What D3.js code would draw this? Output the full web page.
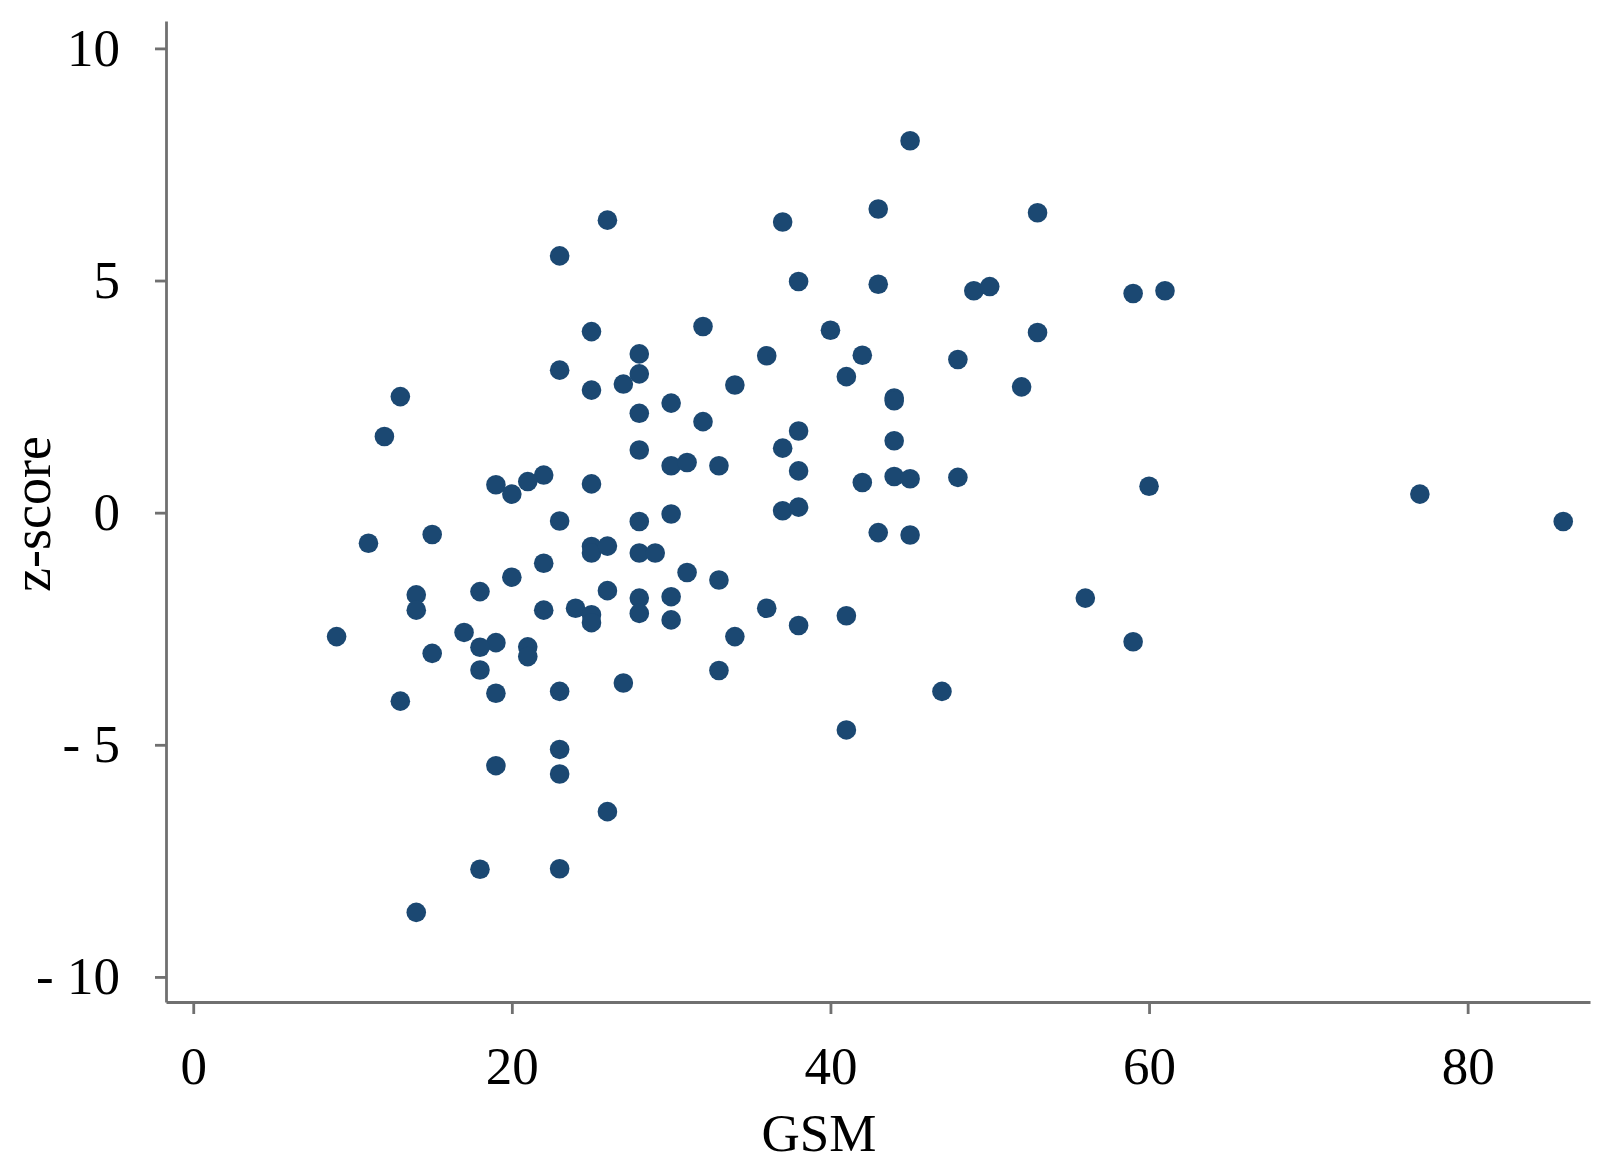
<!DOCTYPE html>
<html>
<head>
  <meta charset="utf-8">
  <script src="https://d3js.org/d3.v7.min.js"></script>
  <style>
    body {
      margin: 0;
      background: #fff;
      font-family: 'Liberation Serif', serif;
    }
    .axis path, .axis line {
      stroke: #707070;
      stroke-width: 2.8px;
    }
    .axis text {
      font-family: 'Liberation Serif', serif;
      font-size: 53px;
      fill: #000;
    }
  </style>
</head>
<body>
<script>
  // GSM (x) against z-score (y)
  var gsm = [45, 26, 37, 43, 53, 23, 38, 43, 49, 50, 59, 61,
             25, 32, 40, 53, 28, 36, 42, 48, 23, 28, 13, 25,
             27, 34, 41, 44, 44, 52, 30, 28, 32, 38, 12, 44,
             28, 37, 30, 31, 33, 38, 22, 21, 19, 20, 25, 42,
             44, 45, 48, 60, 77, 86, 37, 38, 30, 28, 23, 11,
             15, 43, 45, 25, 25, 26, 28, 29, 22, 20, 31, 33,
             18, 26, 14, 14, 28, 30, 56, 22, 24, 36, 41, 25,
             25, 28, 30, 38, 9, 17, 34, 59, 19, 18, 21, 21,
             15, 18, 33, 27, 47, 19, 23, 13, 41, 23, 19, 23,
             26, 18, 23, 14];
  var zscore = [8.01, 6.30, 6.26, 6.54, 6.46, 5.53, 4.98, 4.92, 4.78, 4.87, 4.72, 4.78,
                3.90, 4.01, 3.93, 3.88, 3.42, 3.38, 3.39, 3.30, 3.07, 2.99, 2.50, 2.64,
                2.77, 2.75, 2.93, 2.47, 2.41, 2.71, 2.36, 2.14, 1.96, 1.76, 1.64, 1.55,
                1.35, 1.39, 1.01, 1.08, 1.01, 0.90, 0.81, 0.67, 0.60, 0.40, 0.62, 0.65,
                0.78, 0.73, 0.76, 0.57, 0.40, -0.19, 0.04, 0.12, -0.03, -0.19, -0.18, -0.66,
                -0.47, -0.43, -0.48, -0.73, -0.87, -0.72, -0.87, -0.87, -1.09, -1.39, -1.29, -1.45,
                -1.70, -1.68, -1.77, -2.10, -1.84, -1.81, -1.84, -2.10, -2.06, -2.06, -2.22, -2.20,
                -2.37, -2.17, -2.31, -2.43, -2.67, -2.58, -2.67, -2.78, -2.80, -2.90, -2.89, -3.10,
                -3.03, -3.39, -3.40, -3.67, -3.85, -3.89, -3.85, -4.06, -4.68, -5.10, -5.45, -5.63,
                -6.44, -7.68, -7.67, -8.61];

  var xTicks = [0, 20, 40, 60, 80];
  var yTicks = [10, 5, 0, -5, -10];

  function draw() {
    var width = 1612, height = 1176;
    var plotLeft = 166, plotRight = 1590, plotTop = 21, plotBottom = 1002;

    var svg = d3.select("body")
      .append("svg")
        .attr("width", width)
        .attr("height", height);

    var x = d3.scaleLinear().domain([-1.71, 87.68]).range([plotLeft, plotRight]);
    var y = d3.scaleLinear().domain([-10.54, 10.59]).range([plotBottom, plotTop]);

    var xAxis = d3.axisBottom(x)
      .tickValues(xTicks)
      .tickSizeInner(12)
      .tickSizeOuter(0)
      .tickPadding(32)
      .tickFormat(d3.format("d"));

    var yAxis = d3.axisLeft(y)
      .tickValues(yTicks)
      .tickSizeInner(11)
      .tickSizeOuter(0)
      .tickPadding(35)
      .tickFormat(function (d) { return d < 0 ? "- " + Math.abs(d) : d; });

    svg.append("g")
      .attr("class", "axis")
      .attr("transform", "translate(0," + plotBottom + ")")
      .call(xAxis);

    svg.append("g")
      .attr("class", "axis")
      .attr("transform", "translate(" + plotLeft + ",0)")
      .call(yAxis);

    // points
    svg.append("g")
      .selectAll("circle")
      .data(d3.range(gsm.length))
      .enter()
      .append("circle")
        .attr("cx", function (i) { return x(gsm[i]); })
        .attr("cy", function (i) { return y(zscore[i]); })
        .attr("r", 9.8)
        .attr("fill", "#1b4872");

    // axis titles
    svg.append("text")
      .attr("x", 819)
      .attr("y", 1151)
      .attr("text-anchor", "middle")
      .attr("font-size", "53px")
      .text("GSM");

    svg.append("text")
      .attr("transform", "translate(50,514) rotate(-90)")
      .attr("text-anchor", "middle")
      .attr("font-size", "54px")
      .text("z-score");
  }

  draw();
</script>
</body>
</html>
